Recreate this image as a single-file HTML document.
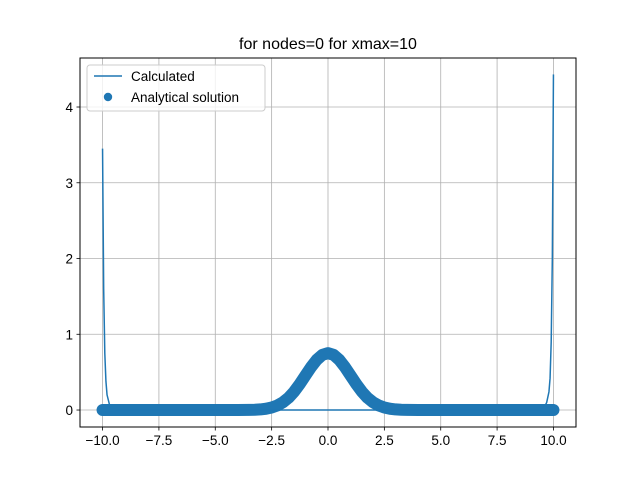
<!DOCTYPE html>
<html><head><meta charset="utf-8"><style>
html,body{margin:0;padding:0;background:#fff;}
svg{display:block;font-family:"Liberation Sans","DejaVu Sans",sans-serif;}
</style></head><body>
<svg id="chart" width="640" height="480" viewBox="0 0 640 480">
<rect width="640" height="480" fill="#fff"/>
<g id="grid"></g>
<g id="marks"></g>
<rect x="80" y="58" width="496" height="369" fill="none" stroke="#000" stroke-width="1"/>
<g id="ticks"></g>
<text x="328" y="49" text-anchor="middle" font-size="16">for nodes=0 for xmax=10</text>
<g>
<rect x="87" y="65" width="178" height="46" rx="3" fill="#fff" fill-opacity="0.8" stroke="#ccc"/>
<line x1="94" y1="76" x2="122" y2="76" stroke="#1f77b4" stroke-width="1.5"/>
<text x="131" y="81" font-size="13.5">Calculated</text>
<circle cx="108" cy="97" r="4.2" fill="#1f77b4"/>
<text x="131" y="102" font-size="13.5">Analytical solution</text>
</g>
</svg>
<script>
const xTicks=[-10,-7.5,-5,-2.5,0,2.5,5,7.5,10];
const xTickLabels=["\u221210.0","\u22127.5","\u22125.0","\u22122.5","0.0","2.5","5.0","7.5","10.0"];
const yTicks=[0,1,2,3,4];
const yTickLabels=["0","1","2","3","4"];
const calcX=[-10,-9.95,-9.9,-9.85,-9.8,-9.7,-9.6,-9.5,-9.4,0,9.4,9.5,9.6,9.7,9.8,9.85,9.9,9.95,10];
const calcY=[3.45,1.6,0.75,0.38,0.2,0.08,0.03,0.01,0,0,0,0.01,0.04,0.1,0.24,0.42,0.9,2.0,4.43];
const anaX=[-10,-9,-8,-7,-6,-5,-4,-3.5,-3.25,-3,-2.75,-2.5,-2.25,-2,-1.75,-1.5,-1.25,-1,-0.75,-0.5,-0.25,0,0.25,0.5,0.75,1,1.25,1.5,1.75,2,2.25,2.5,2.75,3,3.25,3.5,4,5,6,7,8,9,10];
const anaY=[0,0,0,0,0,0,0,0.002,0.004,0.008,0.017,0.033,0.06,0.102,0.162,0.243,0.344,0.456,0.567,0.663,0.728,0.751,0.728,0.663,0.567,0.456,0.344,0.243,0.162,0.102,0.06,0.033,0.017,0.008,0.004,0.002,0,0,0,0,0,0,0];
const X0=-11,X1=11,Y0=-0.224,Y1=4.647,L=80,R=576,T=58,B=427;
const sx=v=>L+(v-X0)/(X1-X0)*(R-L);
const sy=v=>B-(v-Y0)/(Y1-Y0)*(B-T);
const NS="http://www.w3.org/2000/svg";
function mk(tag,attrs,parent){const e=document.createElementNS(NS,tag);for(const k in attrs)e.setAttribute(k,attrs[k]);parent.appendChild(e);return e;}
const grid=document.getElementById('grid'),ticks=document.getElementById('ticks'),marks=document.getElementById('marks');
xTicks.forEach((v,i)=>{
 const g=mk('line',{x1:sx(v),x2:sx(v),y1:T,y2:B,stroke:'#b0b0b0','stroke-width':0.8},grid);
 
 
 const t=mk('line',{x1:sx(v),x2:sx(v),y1:B,y2:B+3.5,stroke:'#000','stroke-width':0.8},ticks);
 
 
 const l=mk('text',{x:sx(v),y:B+18,'text-anchor':'middle','font-size':13.5},ticks);
 l.textContent=xTickLabels[i];
 
 
});
yTicks.forEach((v,i)=>{
 const g=mk('line',{x1:L,x2:R,y1:sy(v),y2:sy(v),stroke:'#b0b0b0','stroke-width':0.8},grid);
 
 
 const t=mk('line',{x1:L-3.5,x2:L,y1:sy(v),y2:sy(v),stroke:'#000','stroke-width':0.8},ticks);
 
 
 const l=mk('text',{x:L-7,y:sy(v)+5,'text-anchor':'end','font-size':13.5},ticks);
 l.textContent=yTickLabels[i];
 
 
});
const ad=anaX.map((x,i)=>(i?'L':'M')+sx(x).toFixed(2)+','+sy(anaY[i]).toFixed(2)).join('');
const ap=mk('path',{d:ad,fill:'none',stroke:'#1f77b4','stroke-width':12,'stroke-linejoin':'round','stroke-linecap':'round'},marks);


const cd=calcX.map((x,i)=>(i?'L':'M')+sx(x).toFixed(2)+','+sy(calcY[i]).toFixed(2)).join('');
const cp=mk('path',{d:cd,fill:'none',stroke:'#1f77b4','stroke-width':1.5,'stroke-linejoin':'round'},marks);


</script>
</body></html>
